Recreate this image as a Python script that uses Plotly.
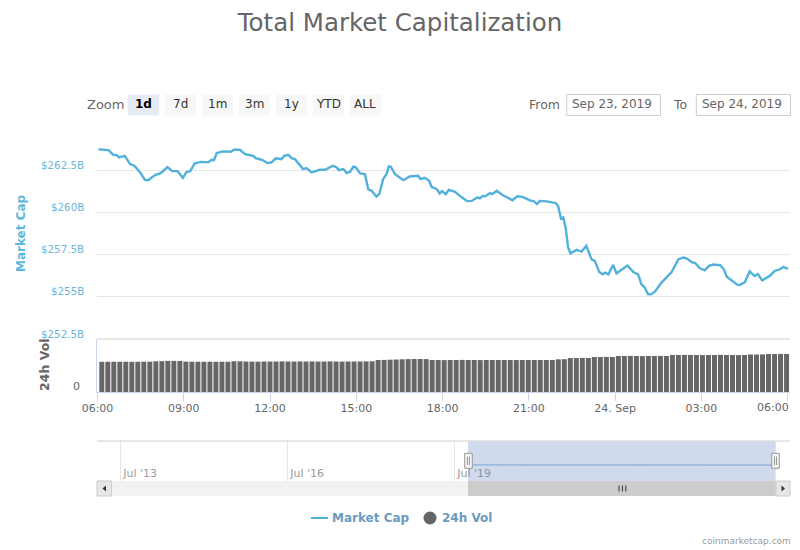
import pandas as pd
import plotly.graph_objects as go

# Market cap line, minutes after 06:00 on Sep 23 and value in $B
cap_minutes = [2, 23, 33, 40, 45, 57, 68, 77, 89, 99, 106, 120, 132, 146, 156, 167, 178, 186, 193, 203,
               217, 231, 238, 243, 249, 262, 278, 285, 297, 308, 325, 330, 343, 355, 363, 372, 384, 390, 398, 405,
               412, 429, 436, 447, 464, 475, 491, 499, 504, 513, 520, 527, 534, 539, 548, 558, 565, 572, 582, 588,
               596, 603, 608, 612, 621, 638, 652, 669, 674, 683, 692, 697, 708, 714, 719, 727, 733, 741, 746, 756,
               771, 781, 793, 798, 804, 808, 819, 824, 833, 846, 866, 876, 887, 902, 911, 917, 923, 937, 956, 961,
               967, 972, 977, 982, 987, 1000, 1010, 1020, 1031, 1038, 1047, 1054, 1059, 1066, 1076, 1083, 1094, 1106, 1118, 1128,
               1135, 1142, 1149, 1155, 1163, 1177, 1198, 1205, 1212, 1222, 1229, 1240, 1247, 1257, 1267, 1276, 1285, 1299, 1307, 1313,
               1323, 1335, 1340, 1351, 1361, 1371, 1378, 1387, 1403, 1413, 1420, 1424, 1431, 1441]
cap_values = [263.76, 263.72, 263.44, 263.42, 263.29, 263.38, 262.89, 262.79, 262.39, 261.95, 261.93, 262.23, 262.35, 262.71, 262.47, 262.47, 262.07, 262.43, 262.45, 262.93,
              263.02, 262.99, 263.14, 263.12, 263.54, 263.64, 263.62, 263.74, 263.74, 263.48, 263.38, 263.24, 263.14, 262.95, 262.99, 263.23, 263.18, 263.38, 263.44, 263.24,
              263.18, 262.59, 262.65, 262.39, 262.55, 262.55, 262.79, 262.69, 262.53, 262.59, 262.35, 262.43, 262.73, 262.69, 262.33, 262.29, 261.40, 261.30, 260.96, 261.10,
              261.99, 262.29, 262.75, 262.73, 262.29, 261.93, 262.15, 262.19, 261.99, 262.07, 261.89, 261.54, 261.40, 261.14, 261.28, 261.10, 261.36, 261.26, 261.24, 261.00,
              260.69, 260.70, 260.91, 260.85, 261.00, 260.96, 261.16, 261.10, 261.30, 261.04, 260.74, 260.98, 260.94, 260.73, 260.67, 260.51, 260.70, 260.67, 260.57, 260.41,
              259.66, 259.72, 259.08, 257.93, 257.59, 257.79, 257.69, 258.03, 257.23, 257.13, 256.48, 256.34, 256.44, 256.34, 256.90, 256.40, 256.64, 256.86, 256.48, 256.34,
              255.75, 255.55, 255.15, 255.15, 255.31, 255.85, 256.48, 256.84, 257.23, 257.34, 257.29, 257.06, 257.01, 256.70, 256.58, 256.84, 256.92, 256.88, 256.64, 256.20,
              255.98, 255.73, 255.71, 255.88, 256.52, 256.24, 256.36, 255.98, 256.26, 256.54, 256.60, 256.64, 256.78, 256.66]

# 24h volume in $B, one bar per sample
vol_values = [60.4, 60.5, 60.5, 60.4, 60.5, 60.4, 60.5, 60.6, 60.6, 61.5, 61.6, 62.2, 62.2, 62.1, 60.8, 60.6, 60.5, 60.5, 60.5, 60.4,
              60.5, 60.5, 61.6, 61.4, 60.9, 60.8, 60.6, 61.0, 60.9, 61.0, 61.2, 61.0, 60.9, 61.2, 61.0, 61.1, 60.9, 61.0, 61.2, 61.0,
              60.8, 61.0, 61.1, 61.0, 61.2, 61.4, 64.0, 64.2, 64.6, 65.0, 65.4, 65.8, 66.0, 66.0, 65.8, 64.0, 64.0, 63.8, 64.0, 64.0,
              64.2, 64.0, 64.0, 63.8, 64.0, 64.0, 64.0, 64.1, 64.0, 63.9, 64.0, 64.0, 64.0, 64.0, 64.0, 64.0, 65.4, 65.6, 68.0, 68.0,
              68.2, 68.0, 70.0, 70.0, 70.2, 70.0, 72.0, 72.0, 72.2, 72.0, 71.8, 72.0, 72.0, 72.2, 72.0, 74.0, 74.0, 74.2, 74.0, 74.0,
              73.8, 74.0, 74.0, 74.2, 74.0, 74.0, 73.8, 74.0, 75.0, 75.0, 75.2, 76.0, 76.0, 76.2, 76.0]

# Navigator overview
nav_dates = ["2019-10-01", "2022-06-15", "2025-04-10"]
nav_values = [261, 260, 259]
nav_ticks = ["2013-07-01", "2016-07-01", "2019-07-01"]
nav_labels = ["Jul '13", "Jul '16", "Jul '19"]

y_ticks = [252.5, 255, 257.5, 260, 262.5, 265]
y_labels = ["$252.5B", "$255B", "$257.5B", "$260B", "$262.5B"]
x_ticks = ["2019-09-23 06:00", "2019-09-23 09:00", "2019-09-23 12:00", "2019-09-23 15:00", "2019-09-23 18:00",
           "2019-09-23 21:00", "2019-09-24 00:00", "2019-09-24 03:00", "2019-09-24 06:00"]
x_labels = ["06:00", "09:00", "12:00", "15:00", "18:00", "21:00", "24. Sep", "03:00", ""]
zoom_buttons = ["1d", "7d", "1m", "3m", "1y", "YTD", "ALL"]

FONT = "DejaVu Sans"
CAP_COLOR = "#52b1db"
VOL_COLOR = "#666666"
GRID = "#e6e6e6"
AXIS = "#ccd6eb"
LEGEND_TEXT = "#6a9bbf"


def px(x):
    return x / 800


def py(y):
    return 1 - y / 550


def box(x0, y0, x1, y1, fill, line=None, width=1):
    return dict(type="rect", xref="paper", yref="paper", x0=px(x0), x1=px(x1), y0=py(y0), y1=py(y1),
                fillcolor=fill, line=dict(color=line or fill, width=width if line else 0), layer="above")


def hline(x0, y0, x1, y1, color, width=1):
    return dict(type="line", xref="paper", yref="paper", x0=px(x0), x1=px(x1), y0=py(y0), y1=py(y1),
                line=dict(color=color, width=width), layer="above")


def label(x, y, text, size=12, color="#666666", anchor="center", bold=False):
    return dict(xref="paper", yref="paper", x=px(x), y=py(y), text=text, showarrow=False, xanchor=anchor,
                yanchor="middle", font=dict(family=FONT, size=size, color=color, weight="bold" if bold else "normal"))


start = pd.Timestamp("2019-09-23 06:00")
cap_times = [start + pd.Timedelta(minutes=m) for m in cap_minutes]
vol_times = pd.date_range(start + pd.Timedelta(minutes=9), periods=len(vol_values), freq="752s")

fig = go.Figure()
fig.add_trace(go.Bar(x=vol_times, y=vol_values, name="24h Vol", marker=dict(color=VOL_COLOR, line=dict(width=0)),
                     yaxis="y2", xaxis="x"))
fig.add_trace(go.Scatter(x=cap_times, y=cap_values, name="Market Cap", mode="lines",
                         line=dict(color=CAP_COLOR, width=2.4), yaxis="y", xaxis="x"))
fig.add_trace(go.Scatter(x=pd.to_datetime(nav_dates), y=nav_values, mode="lines",
                         line=dict(color="#7fb4dc", width=1), yaxis="y3", xaxis="x3"))

shapes = []
annotations = []

# value axis labels sit just above their gridlines
for tick, text in zip(y_ticks, y_labels):
    annotations.append(dict(xref="paper", yref="y", x=px(85.5), y=tick, yshift=5.5, text=text, showarrow=False,
                            xanchor="right", font=dict(family=FONT, size=10.3, color="#6cb6d6")))
annotations.append(dict(xref="paper", yref="y2", x=px(82), y=0, yshift=6, text="0", showarrow=False,
                        xanchor="right", font=dict(family=FONT, size=11, color="#666666")))
annotations.append(dict(label(21, 233, "Market Cap", 12, "#5cb8dc", bold=True), textangle=-90))
annotations.append(dict(label(44, 365, "24h Vol", 12.5, "#666666", bold=True), textangle=-90))

# last time label is pulled in from the right edge
annotations.append(label(773, 407, "06:00", 11))

# range buttons
annotations.append(label(105.5, 104.5, "Zoom", 13, "#666666"))
for i, name in enumerate(zoom_buttons):
    x0 = 127.7 + 37 * i
    selected = i == 0
    shapes.append(box(x0, 94.5, x0 + 31.5, 115.5, "#e6ebf5" if selected else "#f7f7f7"))
    annotations.append(label(x0 + 15.7, 104, name, 12, "#000000" if selected else "#333333", bold=selected))

# date inputs
annotations.append(label(544, 104, "From", 12.5))
shapes.append(box(566.7, 94.5, 660.5, 115.5, "#ffffff", "#cccccc"))
annotations.append(label(612, 104, "Sep 23, 2019", 12))
annotations.append(label(679.5, 104, "To", 12.5))
shapes.append(box(696.3, 94.5, 790.5, 115.5, "#ffffff", "#cccccc"))
annotations.append(label(742, 104, "Sep 24, 2019", 12))

# separator between price and volume panes
shapes.append(hline(97, 339, 790, 339, GRID, 2))

# navigator
shapes.append(box(468, 441.5, 775.7, 481, "rgba(102,133,194,0.3)"))
shapes.append(hline(97, 441, 790, 441, "#cccccc"))
shapes.append(box(97, 481, 790, 496, "#f2f2f2"))
shapes.append(box(468, 481, 775.7, 496, "#cccccc"))
for gx in [619, 622.4, 625.8]:
    shapes.append(hline(gx, 485.5, gx, 491.5, "#333333"))
shapes.append(box(97, 481, 111.5, 496, "#e6e6e6", "#cccccc"))
shapes.append(box(776, 481, 790, 496, "#e6e6e6", "#cccccc"))
shapes.append(dict(type="path", xref="paper", yref="paper", layer="above", fillcolor="#333333", line=dict(width=0),
                   path=f"M {px(106)} {py(485.5)} L {px(102.5)} {py(488.5)} L {px(106)} {py(491.5)} Z"))
shapes.append(dict(type="path", xref="paper", yref="paper", layer="above", fillcolor="#333333", line=dict(width=0),
                   path=f"M {px(781.5)} {py(485.5)} L {px(785)} {py(488.5)} L {px(781.5)} {py(491.5)} Z"))
for hx in [468.5, 775.5]:
    shapes.append(box(hx - 3.8, 453.3, hx + 3.8, 468.3, "#f2f2f2", "#999999"))
    shapes.append(hline(hx - 1, 456.5, hx - 1, 465, "#999999"))
    shapes.append(hline(hx + 1, 456.5, hx + 1, 465, "#999999"))

# legend, laid out by hand to keep the short line sample
shapes.append(hline(311, 518, 328, 518, CAP_COLOR, 2))
annotations.append(label(330, 518, "Market Cap", 12, LEGEND_TEXT, "left", True))
shapes.append(dict(type="circle", xref="paper", yref="paper", x0=px(423.5), x1=px(436.5), y0=py(524.5), y1=py(511.5),
                   fillcolor=VOL_COLOR, line=dict(width=0), layer="above"))
annotations.append(label(440, 518, "24h Vol", 12, LEGEND_TEXT, "left", True))

annotations.append(label(792.5, 541, "coinmarketcap.com", 9, "#999999", "right"))

main_range = [start - pd.Timedelta(minutes=1), start + pd.Timedelta(minutes=1445)]

fig.update_layout(
    width=800,
    height=550,
    margin=dict(l=0, r=0, t=0, b=0),
    paper_bgcolor="#ffffff",
    plot_bgcolor="#ffffff",
    font=dict(family=FONT, color="#666666"),
    title=dict(text="Total Market Capitalization", x=0.5, xanchor="center", y=py(22), yanchor="middle",
               font=dict(family=FONT, size=24.5, color="#666666")),
    bargap=0.17,
    hovermode=False,
    showlegend=False,
    xaxis=dict(domain=[px(97), px(790)], anchor="y2", type="date", range=main_range, tickmode="array",
               tickvals=pd.to_datetime(x_ticks), ticktext=x_labels, ticks="outside", ticklen=8, tickcolor=AXIS,
               showgrid=False, showline=True, linecolor=AXIS, zeroline=False, automargin=False,
               ticklabelstandoff=-2, tickfont=dict(family=FONT, size=11, color="#666666")),
    yaxis=dict(domain=[py(339), py(128.5)], anchor="x", range=[252.5, 265], tickmode="array", tickvals=y_ticks,
               showticklabels=False, ticks="", gridcolor=GRID, gridwidth=1, zeroline=False, showline=False,
               automargin=False),
    yaxis2=dict(domain=[py(392), py(339)], anchor="x", range=[0, 106], showticklabels=False, ticks="",
                showgrid=False, zeroline=False, showline=True, linecolor=AXIS, automargin=False),
    # navigator tick labels stay under the selection box and handles
    xaxis3=dict(domain=[px(97), px(790)], anchor="y3", type="date", range=["2013-01-30", "2025-07-12"],
                tickmode="array", tickvals=nav_ticks, ticktext=nav_labels, ticks="", showgrid=True,
                ticklabelposition="inside right", ticklabelshift=3, ticklabelstandoff=-4,
                tickfont=dict(family=FONT, size=11, color="#999999"),
                gridcolor=GRID, zeroline=False, showline=False, automargin=False),
    yaxis3=dict(domain=[py(481), py(441)], anchor="x3", range=[0, 650], showticklabels=False, ticks="",
                showgrid=False, zeroline=False, showline=False, automargin=False),
    shapes=shapes,
    annotations=annotations,
)

# drop the default body margin so the page is exactly the figure
fig.write_html("out.html", config={"displayModeBar": False}, post_script="document.body.style.margin='0';")
